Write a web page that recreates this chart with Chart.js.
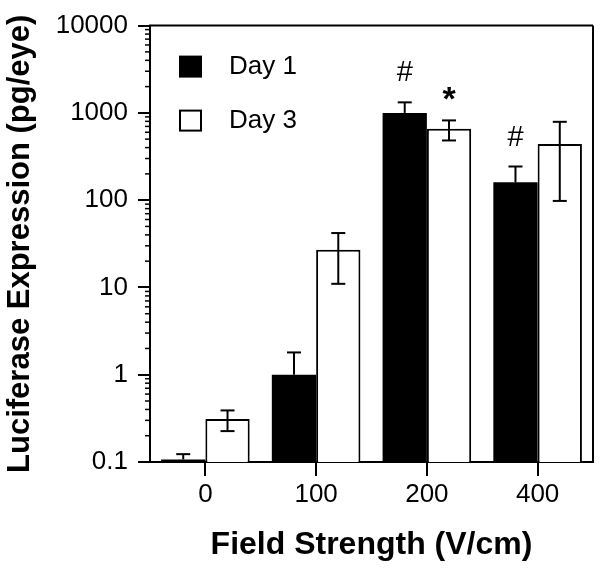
<!DOCTYPE html>
<html><head><meta charset="utf-8">
<script src="https://cdn.jsdelivr.net/npm/chart.js@4/dist/chart.umd.min.js"></script>
<style>html,body{margin:0;padding:0;background:#fff}</style>
</head><body>
<canvas id="c" width="602" height="569"></canvas>
<script>
const categories = ['0', '100', '200', '400'];
const seriesNames = ['Day 1', 'Day 3'];
const day1 = [0.107, 1.0, 1000, 160];
const day1Upper = [0.123, 1.8, 1320, 243];
const day3 = [0.31, 27, 660, 440];
const day3Upper = [0.39, 42, 820, 790];
const day3Lower = [0.226, 11, 483, 98];
const day1Marks = ['', '', '#', '#'];
const day3Marks = ['', '', '*', ''];
const yTicks = [0.1, 1, 10, 100, 1000, 10000];
const yTickLabels = ['0.1', '1', '10', '100', '1000', '10000'];

const FONT = '"Liberation Sans", Arial, Helvetica, sans-serif';
Chart.defaults.font.family = FONT;
Chart.defaults.color = '#000';

function seg(ctx, x1, y1, x2, y2) { ctx.beginPath(); ctx.moveTo(x1, y1); ctx.lineTo(x2, y2); ctx.stroke(); }

const deco = {
  id: 'deco',
  afterDatasetsDraw(chart) {
    const ctx = chart.ctx, y = chart.scales.y, a = chart.chartArea;
    ctx.save();
    ctx.strokeStyle = '#000'; ctx.fillStyle = '#000'; ctx.lineWidth = 2;
    const cap = 7;
    const m1 = chart.getDatasetMeta(0), m3 = chart.getDatasetMeta(1);
    m1.data.forEach((bar, i) => {
      const yt = y.getPixelForValue(day1[i]), yh = y.getPixelForValue(day1Upper[i]);
      seg(ctx, bar.x, yt, bar.x, yh); seg(ctx, bar.x - cap, yh, bar.x + cap, yh);
      if (day1Marks[i]) {
        ctx.font = '29px ' + FONT; ctx.textAlign = 'center'; ctx.textBaseline = 'middle';
        ctx.fillText(day1Marks[i], bar.x, yh - 29);
      }
    });
    m3.data.forEach((bar, i) => {
      const yl = y.getPixelForValue(day3Lower[i]), yh = y.getPixelForValue(day3Upper[i]);
      seg(ctx, bar.x, yl, bar.x, yh); seg(ctx, bar.x - cap, yh, bar.x + cap, yh); seg(ctx, bar.x - cap, yl, bar.x + cap, yl);
      if (day3Marks[i]) {
        ctx.font = 'bold 34px ' + FONT; ctx.textAlign = 'center'; ctx.textBaseline = 'middle';
        ctx.fillText(day3Marks[i], bar.x, yh - 20);
      }
    });
    // frame top & right
    seg(ctx, a.left - 1, a.top, a.right, a.top);
    seg(ctx, a.right, a.top, a.right, a.bottom);
    // minor ticks
    ctx.lineWidth = 1.5;
    for (let d = 0; d < yTicks.length - 1; d++) {
      for (let k = 2; k <= 9; k++) {
        const py = y.getPixelForValue(yTicks[d] * k);
        seg(ctx, a.left - 5, py, a.left, py);
      }
    }
    // legend
    const lx = a.left + 29;
    ctx.fillRect(lx, a.top + 30, 23, 22);
    ctx.lineWidth = 2;
    ctx.strokeRect(lx + 1, a.top + 85, 21, 20);
    ctx.font = '26px ' + FONT; ctx.textAlign = 'left'; ctx.textBaseline = 'middle';
    ctx.fillText(seriesNames[0], lx + 50, a.top + 41);
    ctx.fillText(seriesNames[1], lx + 50, a.top + 95);
    ctx.restore();
  }
};

new Chart(document.getElementById('c'), {
  type: 'bar',
  data: {
    labels: categories,
    datasets: [
      { label: seriesNames[0], data: day1, backgroundColor: '#000', borderColor: '#000', borderWidth: 0 },
      { label: seriesNames[1], data: day3, backgroundColor: '#fff', borderColor: '#000', borderWidth: 2 }
    ]
  },
  options: {
    responsive: false,
    animation: false,
    layout: { padding: { left: 0, top: 20, right: 9, bottom: 0 } },
    datasets: { bar: { categoryPercentage: 0.8, barPercentage: 1.0 } },
    plugins: { legend: { display: false }, tooltip: { enabled: false } },
    scales: {
      x: {
        type: 'category',
        grid: { display: true, offset: false, drawOnChartArea: false, drawTicks: true, tickLength: 14, color: '#000', lineWidth: 2 },
        border: { display: true, color: '#000', width: 2 },
        ticks: { font: { size: 26 }, color: '#000', padding: 3, maxRotation: 0 },
        title: { display: true, text: 'Field Strength (V/cm)', font: { size: 32, weight: 'bold' }, color: '#000', padding: { top: 0, bottom: 5 } },
        afterFit(s) { s.height = 107; }
      },
      y: {
        type: 'logarithmic',
        min: 0.1, max: 10000,
        afterBuildTicks(s) { s.ticks = yTicks.map(v => ({ value: v, major: true })); },
        grid: { display: true, drawOnChartArea: false, drawTicks: true, tickLength: 12, color: '#000', lineWidth: 2 },
        border: { display: true, color: '#000', width: 2 },
        ticks: { font: { size: 26 }, color: '#000', padding: 10, callback: (v) => yTickLabels[yTicks.indexOf(v)] ?? '' },
        title: { display: true, text: 'Luciferase Expression (pg/eye)', font: { size: 31, weight: 'bold' }, color: '#000', padding: { top: 2, bottom: 0 } },
        afterFit(s) { s.width = 150; }
      }
    }
  },
  plugins: [deco]
});
</script>
</body></html>
